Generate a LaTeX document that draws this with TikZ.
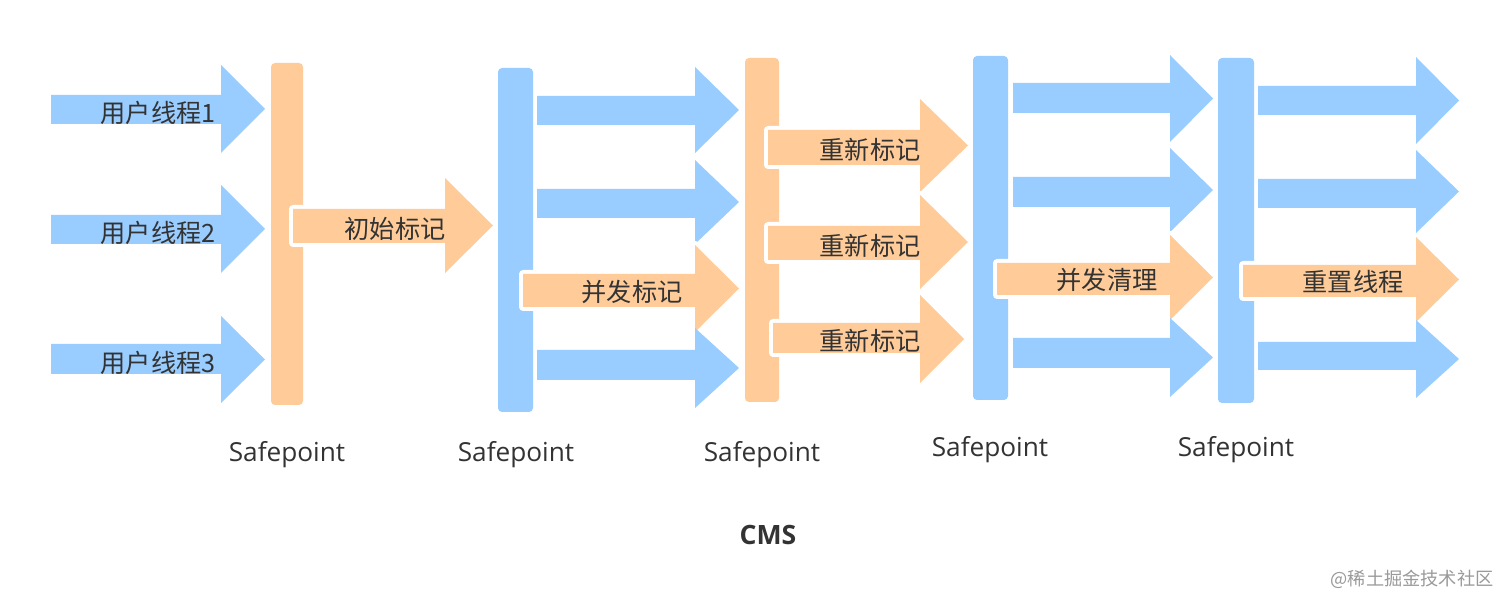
\documentclass[tikz,border=0pt]{standalone}
\usepackage{fontspec}
\setmainfont{Noto Sans CJK SC}
\newfontfamily\latin{Open Sans}
\definecolor{bl}{HTML}{99CCFF}
\definecolor{og}{HTML}{FFCC99}
\definecolor{tx}{HTML}{333333}
\definecolor{wm}{HTML}{9A9A9A}
% block arrow: style, x start, x head, x tip, shaft centre y, shaft half width, head centre y, head half height
\newcommand\blk[8]{\fill[#1] (#2,{#5-#6}) -- (#3,{#5-#6}) -- (#3,{#7-#8}) -- (#4,#7) -- (#3,{#7+#8}) -- (#3,{#5+#6}) -- (#2,{#5+#6}) -- cycle;}
\tikzset{
  barb/.style={fill=bl, rounded corners=2pt},
  baro/.style={fill=og, rounded corners=2pt},
  bluearr/.style={fill=bl},
  orarr/.style={fill=og, preaction={draw=white, line width=4pt, line join=round}},
  lab/.style={text=tx, inner sep=0pt, font=\fontsize{12.6}{14}\selectfont},
  splab/.style={text=tx, inner sep=0pt, font=\latin\fontsize{13.1}{15}\selectfont},
}
\begin{document}
\begin{tikzpicture}[x=0.5pt,y=-0.5pt]
\useasboundingbox[fill=white] (0,0) rectangle (1512,609);
% column 1: user threads
\blk{bluearr}{51}{221}{265}{109.5}{14.5}{109}{44}
\blk{bluearr}{51}{221}{265}{229.5}{14.5}{229}{44}
\blk{bluearr}{51}{221}{265}{359}{15}{359.5}{43.5}
\node[lab] (u1) at (158,113) {用户线程1};
\node[lab] (u2) at (158,233) {用户线程2};
\node[lab] (u3) at (158,363) {用户线程3};
% safepoint 1
\path[baro] (271,63) rectangle (303,405);
\coordinate (sp1) at (287,405);
\blk{orarr}{293}{445}{493}{226}{17}{225.5}{47.5}
\node[lab] (m1) at (395,229) {初始标记};
% safepoint 2
\path[barb] (498,68) rectangle (533,412);
\coordinate (sp2) at (515,412);
\blk{bluearr}{537}{695}{739}{110.5}{14.5}{110}{43}
\blk{bluearr}{537}{695}{739}{203.5}{14.5}{202}{42}
\blk{orarr}{523}{695}{739}{290.5}{16.5}{288.5}{43.5}
\blk{bluearr}{537}{695}{739}{365}{15}{368}{40}
\node[lab] (m2) at (632,292) {并发标记};
% safepoint 3
\path[baro] (745,58) rectangle (779,402);
\coordinate (sp3) at (762,402);
\blk{orarr}{768}{920}{968}{147.5}{17.5}{145.5}{46.5}
\blk{orarr}{768}{920}{968}{243}{17}{242}{47}
\blk{orarr}{773}{920}{964}{338}{15}{339}{44}
\node[lab] (r1) at (870,150) {重新标记};
\node[lab] (r2) at (870,246) {重新标记};
\node[lab] (r3) at (870,341) {重新标记};
% safepoint 4
\path[barb] (973,56) rectangle (1008,400);
\coordinate (sp4) at (990,400);
\blk{bluearr}{1013}{1170}{1213}{98}{15}{98.5}{43.5}
\blk{bluearr}{1013}{1170}{1213}{192}{15}{190}{42}
\blk{orarr}{997}{1170}{1213}{279}{16}{277.5}{42.5}
\blk{bluearr}{1013}{1170}{1213}{353}{15}{357.5}{39.5}
\node[lab] (c1) at (1107,280) {并发清理};
% safepoint 5
\path[barb] (1218,58) rectangle (1254,403);
\coordinate (sp5) at (1236,403);
\blk{bluearr}{1258}{1416}{1459}{100.5}{14.5}{100.5}{43.5}
\blk{bluearr}{1258}{1416}{1459}{193.5}{14.5}{191.5}{41.5}
\blk{orarr}{1243}{1416}{1459}{281}{16}{279.5}{42.5}
\blk{bluearr}{1258}{1416}{1459}{356}{14}{359}{39}
\node[lab] (t1) at (1353,282) {重置线程};
% safepoint labels
\node[splab] (s1) at (287,455) {Safepoint};
\node[splab] (s2) at (516,455) {Safepoint};
\node[splab] (s3) at (762,455) {Safepoint};
\node[splab] (s4) at (990,450) {Safepoint};
\node[splab] (s5) at (1236,450) {Safepoint};
\node[text=tx, inner sep=0pt, font=\latin\bfseries\fontsize{13.3}{15}\selectfont] (cms) at (768,535) {CMS};
\node[text=wm, inner sep=0pt, font=\fontsize{9.1}{11}\selectfont] (wmk) at (1412,579) {@稀土掘金技术社区};
\end{tikzpicture}
\end{document}
